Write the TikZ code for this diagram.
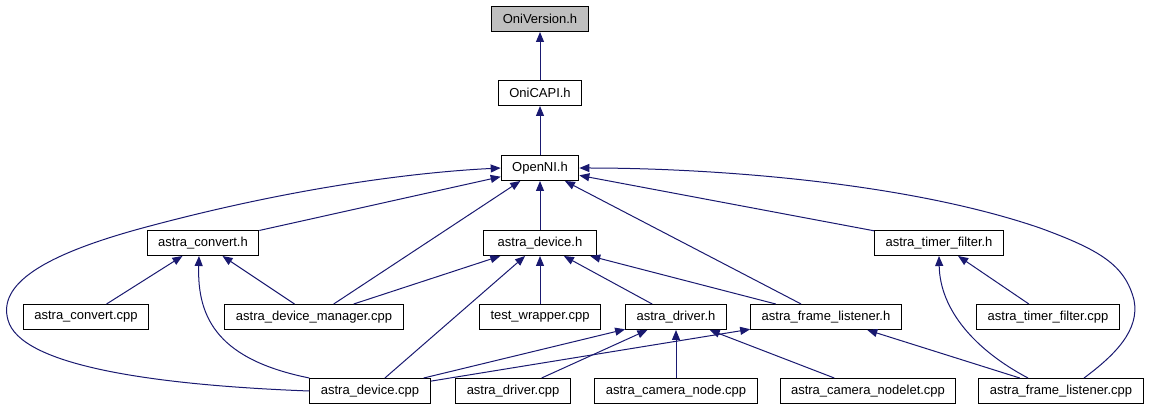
\documentclass[tikz,border=0pt]{standalone}
\usepackage{fontspec}
\setmainfont{Liberation Sans}
\usetikzlibrary{arrows.meta}
\definecolor{edgeblue}{RGB}{25,25,112}
\definecolor{rootgray}{RGB}{191,191,191}

\begin{document}
\begin{tikzpicture}[%
x=1pt, y=-1pt,
file/.style={draw=black, fill=white, line width=1pt, minimum height=25pt, inner xsep=11pt, inner ysep=0pt, font=\fontsize{13}{15}\selectfont},
incl/.style={color=edgeblue, line width=1pt, -{Triangle[length=10pt,width=8pt]}},
]
\useasboundingbox (0,0) rectangle (1151,411);
%% headers;
\node[file, fill=rootgray] (oniversion) at (540,19) {OniVersion.h};
\node[file] (onicapi) at (540,93) {OniCAPI.h};
\node[file] (openni) at (540,168) {OpenNI.h};
\node[file] (converth) at (203,243) {astra\_convert.h};
\node[file, inner xsep=14pt] (deviceh) at (540,243) {astra\_device.h};
\node[file] (timerh) at (939,243) {astra\_timer\_filter.h};
%% middle row;
\node[file] (convertcpp) at (86,317) {astra\_convert.cpp};
\node[file] (managercpp) at (314,317) {astra\_device\_manager.cpp};
\node[file] (wrappercpp) at (540,317) {test\_wrapper.cpp};
\node[file] (driverh) at (676,317) {astra\_driver.h};
\node[file] (listenerh) at (826,317) {astra\_frame\_listener.h};
\node[file] (timercpp) at (1048,317) {astra\_timer\_filter.cpp};
%% bottom row;
\node[file] (devicecpp) at (370,391) {astra\_device.cpp};
\node[file] (drivercpp) at (513,391) {astra\_driver.cpp};
\node[file] (nodecpp) at (676,391) {astra\_camera\_node.cpp};
\node[file] (nodeletcpp) at (868,391) {astra\_camera\_nodelet.cpp};
\node[file] (listenercpp) at (1061,391) {astra\_frame\_listener.cpp};
%% edges;
\draw[incl] (onicapi) -- (oniversion);
\draw[incl] (openni) -- (onicapi);
\draw[incl] (converth) -- (openni);
\draw[incl] (deviceh) -- (openni);
\draw[incl] (timerh) -- (openni);
\draw[incl] (managercpp) -- (openni);
\draw[incl] (listenerh) -- (openni);
\draw[incl] (devicecpp.west) .. controls (150,385) and (20,365) .. (8,320) .. controls (-2,285) and (40,255) .. (150,226) .. controls (300,186) and (420,172) .. (openni.west);
\draw[incl] ([xshift=23pt]listenercpp.north) .. controls (1115,355) and (1140,330) .. (1134,300) .. controls (1125,265) and (1100,250) .. (1040,228) .. controls (900,180) and (700,168) .. (openni.east);
\draw[incl] (convertcpp) -- (converth);
\draw[incl] (managercpp) -- (converth);
\draw[incl] (devicecpp.north west) .. controls (220,360) and (197,320) .. ([xshift=-4pt]converth.south);
\draw[incl] (managercpp) -- (deviceh);
\draw[incl] (devicecpp) -- (deviceh);
\draw[incl] (wrappercpp) -- (deviceh);
\draw[incl] (driverh) -- (deviceh);
\draw[incl] (listenerh) -- (deviceh);
\draw[incl] (timercpp) -- (timerh);
\draw[incl] ([xshift=-33pt]listenercpp.north) .. controls (975,350) and (940,310) .. (timerh.south);
\draw[incl] (devicecpp) -- (driverh);
\draw[incl] (drivercpp) -- (driverh);
\draw[incl] (nodecpp) -- (driverh);
\draw[incl] (nodeletcpp) -- (driverh);
\draw[incl] (devicecpp) -- (listenerh);
\draw[incl] (listenercpp) -- (listenerh);
\end{tikzpicture}
\end{document}
